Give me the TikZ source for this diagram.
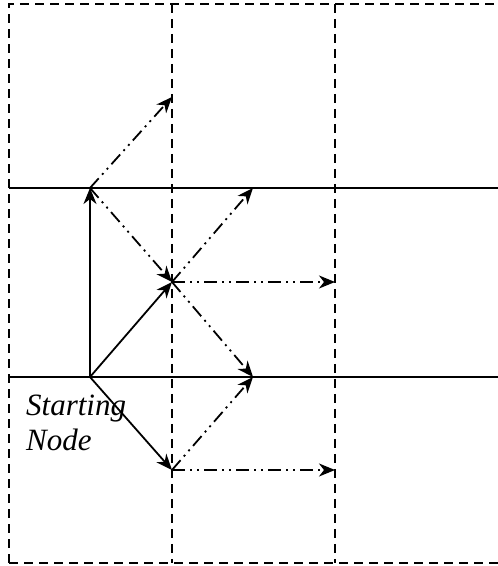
\documentclass[tikz,border=0pt]{standalone}
\usepackage{fontspec}
\setmainfont{Liberation Serif}
\usetikzlibrary{arrows.meta}
\tikzset{
    grid line/.style={
        line width=2pt,
        dash pattern=on 9pt off 6pt
    },
    row line/.style={
        line width=1.8pt
    },
    move/.style={
        line width=1.8pt,
        -{Stealth[length=16pt,width=13pt,inset=5pt]}
    },
    next move/.style={
        move,
        dash pattern=on 13pt off 5pt on 2pt off 5pt on 2pt off 5pt
    }
}

\begin{document}
\begin{tikzpicture}[x=1pt,y=1pt]
                \useasboundingbox (0,0) rectangle (498,566);
                % grid
                \coordinate (TL) at (9, 562);
                \coordinate (BL) at (9, 3);
                \coordinate (TR) at (498, 562);
                \coordinate (BR) at (498, 3);
                \coordinate (C1T) at (172, 562);
                \coordinate (C1B) at (172, 3);
                \coordinate (C2T) at (335, 562);
                \coordinate (C2B) at (335, 3);
                \coordinate (R1L) at (9, 378);
                \coordinate (R1R) at (498, 378);
                \coordinate (R2L) at (9, 189);
                \coordinate (R2R) at (498, 189);
                % moves
                \coordinate (S) at (90, 189);
                \coordinate (P1) at (90, 378);
                \coordinate (P2) at (172, 284);
                \coordinate (P3) at (172, 96);
                \coordinate (P4) at (172, 469);
                \coordinate (P5) at (253, 378);
                \coordinate (P6) at (253, 189);
                \coordinate (P7) at (335, 284);
                \coordinate (P8) at (335, 96);
                \draw [grid line] (BL) -- (TL) -- (TR);
                \draw [grid line] (BL) -- (BR);
                \draw [grid line] (C1T) -- (C1B);
                \draw [grid line] (C2T) -- (C2B);
                \draw [row line] (R1L) -- (R1R);
                \draw [row line] (R2L) -- (R2R);
                \node [font=\itshape\fontsize{31}{35}\selectfont, align=left,
                    anchor=north west, inner sep=0pt] (start) at (26, 171) {Starting\\Node};
                \draw [move] (S) -- (P1);
                \draw [move] (S) -- (P2);
                \draw [move] (S) -- (P3);
                \draw [next move] (P1) -- (P4);
                \draw [next move] (P1) -- (P2);
                \draw [next move] (P2) -- (P5);
                \draw [next move] (P2) -- (P7);
                \draw [next move] (P2) -- (P6);
                \draw [next move] (P3) -- (P6);
                \draw [next move] (P3) -- (P8);
            \end{tikzpicture}
\end{document}
